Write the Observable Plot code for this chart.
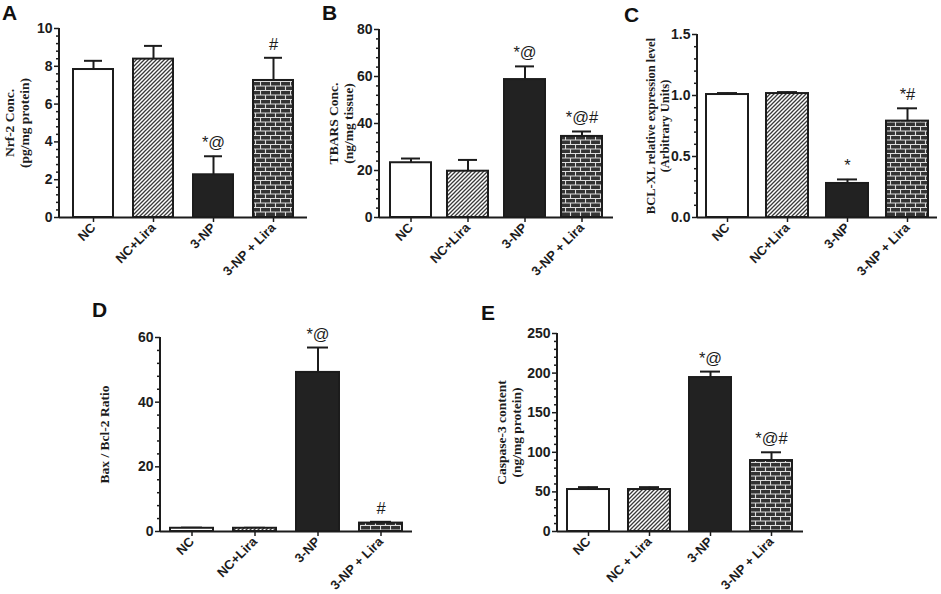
<!DOCTYPE html>
<html><head><meta charset="utf-8">
<script src="https://cdn.jsdelivr.net/npm/d3@7"></script>
<script src="https://cdn.jsdelivr.net/npm/@observablehq/plot@0.6"></script>
<style>
body{margin:0;background:#fff;}
#fig{position:relative;width:941px;height:594px;overflow:hidden;font-family:"Liberation Sans",Arial,sans-serif;}
.panel{position:absolute;}
.letter{position:absolute;font-weight:bold;font-size:21px;line-height:21px;color:#111;font-family:"Liberation Sans",Arial,sans-serif;}
</style></head><body>
<svg width="0" height="0" style="position:absolute">
<defs>
<pattern id="hatch" patternUnits="userSpaceOnUse" width="4" height="4">
<rect width="4" height="4" fill="#fff"/>
<path d="M-1,1 L1,-1 M0,4 L4,0 M3,5 L5,3" stroke="#3a3a3a" stroke-width="1.3"/>
</pattern>
<pattern id="brick" patternUnits="userSpaceOnUse" width="10" height="9">
<rect width="10" height="9" fill="#333333"/>
<path d="M0,0.5 H10 M0,5 H10 M0.5,0 V4.5 M5.5,4.5 V9" stroke="#dddddd" stroke-width="1.1"/>
</pattern>
</defs>
</svg>
<div id="fig"></div>
<script>
// ---- data ----
const groups = ["NC", "NC+Lira", "3-NP", "3-NP + Lira"];
const groupsE = ["NC", "NC + Lira", "3-NP", "3-NP + Lira"];

const nrf2Mean = [7.83, 8.38, 2.26, 7.25];
const nrf2Err = [0.46, 0.70, 0.98, 1.20];
const nrf2Sig = ["", "", "*@", "#"];

const tbarsMean = [23.3, 19.7, 58.7, 34.5];
const tbarsErr = [1.8, 4.8, 5.6, 2.1];
const tbarsSig = ["", "", "*@", "*@#"];

const bclMean = [1.008, 1.016, 0.279, 0.79];
const bclErr = [0.012, 0.012, 0.033, 0.105];
const bclSig = ["", "", "*", "*#"];

const baxMean = [1.0, 1.0, 49.2, 2.6];
const baxErr = [0.2, 0.15, 7.7, 0.4];
const baxSig = ["", "", "*@", "#"];

const caspMean = [53, 53, 194.4, 89.6];
const caspErr = [3, 3, 7.5, 10.4];
const caspSig = ["", "", "*@", "*@#"];

const ticksA = [0, 2, 4, 6, 8, 10];
const ticksB = [0, 20, 40, 60, 80];
const ticksC = [0, 0.5, 1.0, 1.5];
const ticksD = [0, 20, 40, 60];
const ticksE = [0, 50, 100, 150, 200, 250];

// ---- styles ----
const FILLS = ["#ffffff", "url(#hatch)", "#222222", "url(#brick)"];
const INK = "#1c1c1c";
const fig = document.getElementById("fig");

function minorTicks(major) {
  const out = [];
  for (let k = 0; k < major.length - 1; k++) {
    const a = major[k], b = major[k + 1];
    for (let j = 1; j < 5; j++) out.push(a + (b - a) * j / 5);
  }
  return out;
}

function yLine(index, scales, values, dims) {
  const l = document.createElementNS("http://www.w3.org/2000/svg", "line");
  l.setAttribute("x1", dims.marginLeft);
  l.setAttribute("x2", dims.marginLeft);
  l.setAttribute("y1", dims.marginTop);
  l.setAttribute("y2", dims.height - dims.marginBottom + 1);
  l.setAttribute("stroke", INK);
  l.setAttribute("stroke-width", 2);
  return l;
}

function panel(o) {
  const rows = o.cats.map((c, i) => ({cat: c, mean: o.mean[i], top: o.mean[i] + o.err[i], sig: o.sig[i]}));
  const bars = o.cats.map((c, i) =>
    Plot.barY(rows.filter(d => d.cat === c), {x: "cat", y: "mean", fill: FILLS[i], stroke: INK, strokeWidth: 2})
  );
  const plot = Plot.plot({
    width: o.w, height: o.h,
    marginLeft: o.ml, marginRight: o.mr, marginTop: o.mt, marginBottom: o.mb,
    style: {fontFamily: "'Liberation Sans', Arial, sans-serif", fontWeight: "bold", fontSize: "13px", color: INK, background: "transparent", overflow: "visible"},
    x: {domain: o.cats, paddingInner: o.pi, paddingOuter: o.po, label: null},
    y: {domain: [0, o.ticks[o.ticks.length - 1]], label: null},
    marks: [
      Plot.ruleX(rows, {x: "cat", y1: "mean", y2: "top", stroke: INK, strokeWidth: 2}),
      Plot.tickY(rows, {x: "cat", y: "top", stroke: INK, strokeWidth: 2, insetLeft: 11, insetRight: 11}),
      ...bars,
      Plot.axisY({ticks: minorTicks(o.ticks), tickSize: 3, tickFormat: () => "", strokeWidth: 1.5, label: null}),
      Plot.axisY({ticks: o.ticks, tickSize: 5, tickPadding: 2, tickFormat: o.fmt, strokeWidth: 1.5, fontSize: 14, label: null}),
      Plot.axisX({tickSize: 5, tickPadding: 3, tickRotate: -45, strokeWidth: 1.5, fontSize: 13, label: null}),
      Plot.ruleY([0], {stroke: INK, strokeWidth: 2}),
      yLine,
      Plot.text(rows, {x: "cat", y: "top", text: "sig", dy: -8, lineAnchor: "bottom", fontSize: 16.5, fontWeight: "normal", fill: INK}),
      Plot.text([o.label], {text: d => d, frameAnchor: "left", textAnchor: "middle", lineAnchor: "middle", dx: o.ldx, rotate: -90, fontFamily: "'Liberation Serif', 'Times New Roman', serif", fontSize: o.ls, fontWeight: "bold", lineHeight: 1.1, fill: INK})
    ]
  });
  const div = document.createElement("div");
  div.className = "panel";
  div.style.left = o.left + "px";
  div.style.top = o.top + "px";
  div.appendChild(plot);
  fig.appendChild(div);
  const L = document.createElement("div");
  L.className = "letter";
  L.textContent = o.letter;
  L.style.left = o.lx + "px";
  L.style.top = o.ly + "px";
  fig.appendChild(L);
}

const f0 = d3.format("d"), f1 = d3.format(".1f");

panel({cats: groups, mean: nrf2Mean, err: nrf2Err, sig: nrf2Sig, ticks: ticksA, fmt: f0,
  label: "Nrf-2 Conc.\n(pg/mg protein)", ldx: -43, ls: 13.5,
  left: 0, top: 0, w: 315, h: 300, ml: 59, mr: 8, mt: 28, mb: 83, pi: 0.33, po: 0.2,
  letter: "A", lx: 2, ly: 2});

panel({cats: groups, mean: tbarsMean, err: tbarsErr, sig: tbarsSig, ticks: ticksB, fmt: f0,
  label: "TBARS Conc.\n(ng/mg tissue)", ldx: -39, ls: 13.5,
  left: 315, top: 0, w: 305, h: 300, ml: 64, mr: 7, mt: 29, mb: 83, pi: 0.28, po: 0.19,
  letter: "B", lx: 322, ly: 2});

panel({cats: groups, mean: bclMean, err: bclErr, sig: bclSig, ticks: ticksC, fmt: f1,
  label: "BCL-XL relative expression level\n(Arbitrary Units)", ldx: -40, ls: 12.5,
  left: 620, top: 0, w: 321, h: 300, ml: 77, mr: 4, mt: 34, mb: 83, pi: 0.3, po: 0.14,
  letter: "C", lx: 624, ly: 4});

panel({cats: groups, mean: baxMean, err: baxErr, sig: baxSig, ticks: ticksD, fmt: f0,
  label: "Bax / Bcl-2 Ratio", ldx: -56, ls: 13.5,
  left: 60, top: 300, w: 400, h: 294, ml: 100, mr: 48, mt: 37, mb: 63, pi: 0.32, po: 0.16,
  letter: "D", lx: 92, ly: 299});

panel({cats: groupsE, mean: caspMean, err: caspErr, sig: caspSig, ticks: ticksE, fmt: f0,
  label: "Caspase-3 content\n(ng/mg protein)", ldx: -49, ls: 13.5,
  left: 460, top: 300, w: 360, h: 294, ml: 97, mr: 17, mt: 33, mb: 63, pi: 0.31, po: 0.16,
  letter: "E", lx: 481, ly: 302});
</script>
</body></html>
